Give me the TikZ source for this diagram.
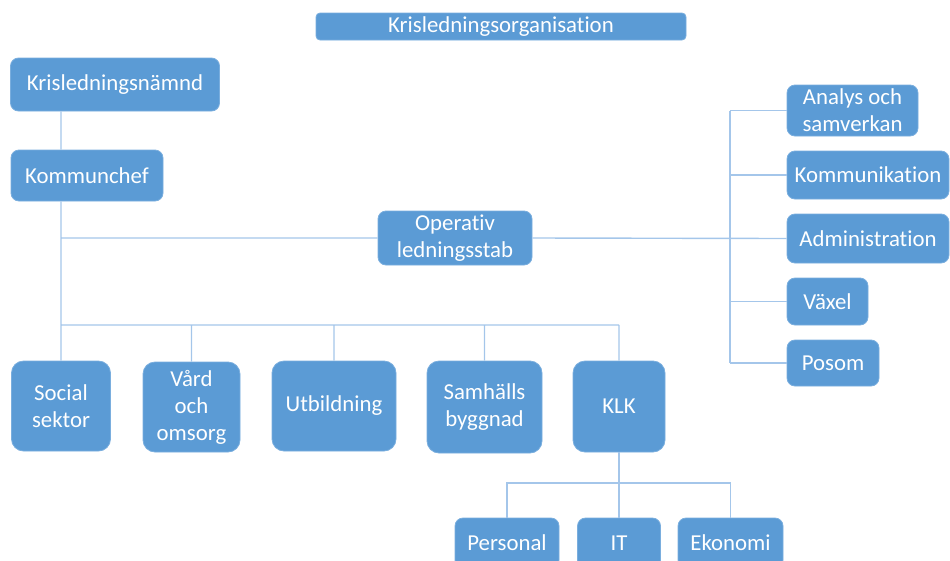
\documentclass[tikz,border=0pt]{standalone}
\usepackage{fontspec}
\setmainfont{Carlito}[Ligatures=NoCommon]
\usepackage{tikz}
\definecolor{boxblue}{HTML}{5B9BD5}
\definecolor{boxedge}{HTML}{7AAEDE}
\definecolor{linkblue}{HTML}{A4C6EA}
\begin{document}
\begin{tikzpicture}[x=1pt,y=-1pt,
    box/.style={rectangle,rounded corners=8pt,fill=boxblue,draw=boxedge,line width=0.8pt,
        text=white,align=center,inner sep=0pt,font=\fontsize{22.8}{27}\selectfont},
    tallbox/.style={box,rounded corners=12pt,minimum height=90},
    link/.style={draw=linkblue,line width=1.4pt}]
        \useasboundingbox (0,0) rectangle (950,560);
        \clip (0,0) rectangle (950,560);
        \coordinate (trunk) at (61,0);
        \coordinate (spine) at (730,0);
        \coordinate (bar) at (0,325);
        \coordinate (subbar) at (0,483);
        % top and left column
        \node[box,rounded corners=4pt,minimum width=370,minimum height=27] (title) at (501,26.5) {Krisledningsorganisation};
        \node[box,minimum width=209,minimum height=53] (krnd) at (115,84.5) {Krisledningsnämnd};
        \node[box,minimum width=152,minimum height=51] (kchef) at (87,175.5) {Kommunchef};
        \node[box,minimum width=154,minimum height=54] (ops) at (455,238) {Operativ\\ledningsstab};
        % staff column
        \node[box,minimum width=131,minimum height=51] (analys) at (852.5,110.5) {Analys och\\samverkan};
        \node[box,minimum width=162,minimum height=48] (komm) at (868,175) {Kommunikation};
        \node[box,minimum width=162,minimum height=49] (admin) at (868,238.5) {Administration};
        \node[box,minimum width=81,minimum height=47] (vaxel) at (827.5,301.5) {Växel};
        \node[box,minimum width=92,minimum height=46] (posom) at (833,363) {Posom};
        % sectors
        \node[tallbox,minimum width=99] (social) at (61,406) {Social\\sektor};
        \node[tallbox,minimum width=97] (vard) at (191.5,407) {Vård\\och\\omsorg};
        \node[tallbox,minimum width=124] (utb) at (334,406) {Utbildning};
        \node[tallbox,minimum width=115,minimum height=92] (samh) at (484.5,407) {Samhälls\\byggnad};
        \node[tallbox,minimum width=92,minimum height=91] (klk) at (619,406.5) {KLK};
        % under KLK
        \node[box,minimum width=104,minimum height=50] (pers) at (507,543) {Personal};
        \node[box,minimum width=83,minimum height=50] (it) at (619,543) {IT};
        \node[box,minimum width=105,minimum height=50] (eko) at (730.5,543) {Ekonomi};
        % connectors
        \draw[link] (krnd.south -| trunk) -- (kchef.north -| trunk)
                    (kchef.south -| trunk) -- (social.north)
                    (ops.west -| trunk) -- (ops.west)
                    (ops.east) -- (admin.west)
                    (social.north |- bar) -- (klk.north |- bar)
                    (vard.north) -- (vard.north |- bar)
                    (utb.north) -- (utb.north |- bar)
                    (samh.north) -- (samh.north |- bar)
                    (klk.north) -- (klk.north |- bar);
        \draw[link] (analys.west -| spine) -- (posom.west -| spine)
                    (analys.west) -- (analys.west -| spine)
                    (komm.west) -- (komm.west -| spine)
                    (vaxel.west) -- (vaxel.west -| spine)
                    (posom.west) -- (posom.west -| spine);
        \draw[link] (klk.south) -- (it.north)
                    (pers.north) -- (pers.north |- subbar) -- (eko.north |- subbar) -- (eko.north);
\end{tikzpicture}
\end{document}
